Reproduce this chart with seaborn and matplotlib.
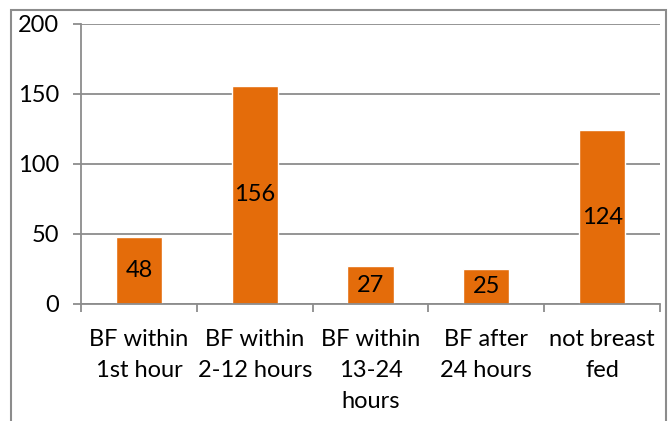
import matplotlib
matplotlib.use("Agg")
import matplotlib.pyplot as plt
from matplotlib.patches import Rectangle
import seaborn as sns
import pandas as pd

categories = ["BF within\n1st hour", "BF within\n2-12 hours", "BF within\n13-24\nhours",
              "BF after\n24 hours", "not breast\nfed"]
counts = [48, 156, 27, 25, 124]
y_ticks = [0, 50, 100, 150, 200]

bar_color = "#E46C0A"
line_gray = "#8C8C8C"

sns.set_style("white")
plt.rcParams["font.family"] = ["Lato", "DejaVu Sans"]

W, H = 669, 421
fig = plt.figure(figsize=(W / 100, H / 100), dpi=100)
ax = fig.add_axes([81 / W, 1 - 304 / H, (660 - 81) / W, (304 - 24) / H])

df = pd.DataFrame({"category": categories, "count": counts})
sns.barplot(data=df, x="category", y="count", color=bar_color, saturation=1,
            width=0.4, ax=ax)

ax.set_xlim(-0.5, len(categories) - 0.5)
ax.set_ylim(0, 200)
ax.set_yticks(y_ticks)
ax.set_xlabel("")
ax.set_ylabel("")

# horizontal gridlines behind the bars
ax.set_axisbelow(True)
ax.yaxis.grid(True, color=line_gray, linewidth=1.3)
ax.xaxis.grid(False)

for side in ["top", "right"]:
    ax.spines[side].set_visible(False)
for side in ["left", "bottom"]:
    ax.spines[side].set_color(line_gray)
    ax.spines[side].set_linewidth(1.3)

FS = 17
ax.tick_params(axis="y", length=6, width=1.3, color=line_gray, pad=10,
               labelsize=FS, labelcolor="black", left=True)
# category labels sit between boundary tick marks
ax.set_xticks([i - 0.5 for i in range(len(categories) + 1)], minor=True)
ax.tick_params(axis="x", which="minor", length=6, width=1.3, color=line_gray, bottom=True)
ax.tick_params(axis="x", which="major", length=0, pad=18, labelsize=FS, labelcolor="black")
for lbl in ax.get_xticklabels():
    lbl.set_linespacing(1.6)
    lbl.set_verticalalignment("top")

ax.bar_label(ax.containers[0], label_type="center", fontsize=FS, color="black")

# chart frame
fig.patches.append(Rectangle((11 / W, -0.05), (666 - 11) / W, 1 - 9.5 / H + 0.05,
                             transform=fig.transFigure, fill=False,
                             edgecolor=line_gray, linewidth=1.5))

fig.savefig("out.png", dpi=100)
